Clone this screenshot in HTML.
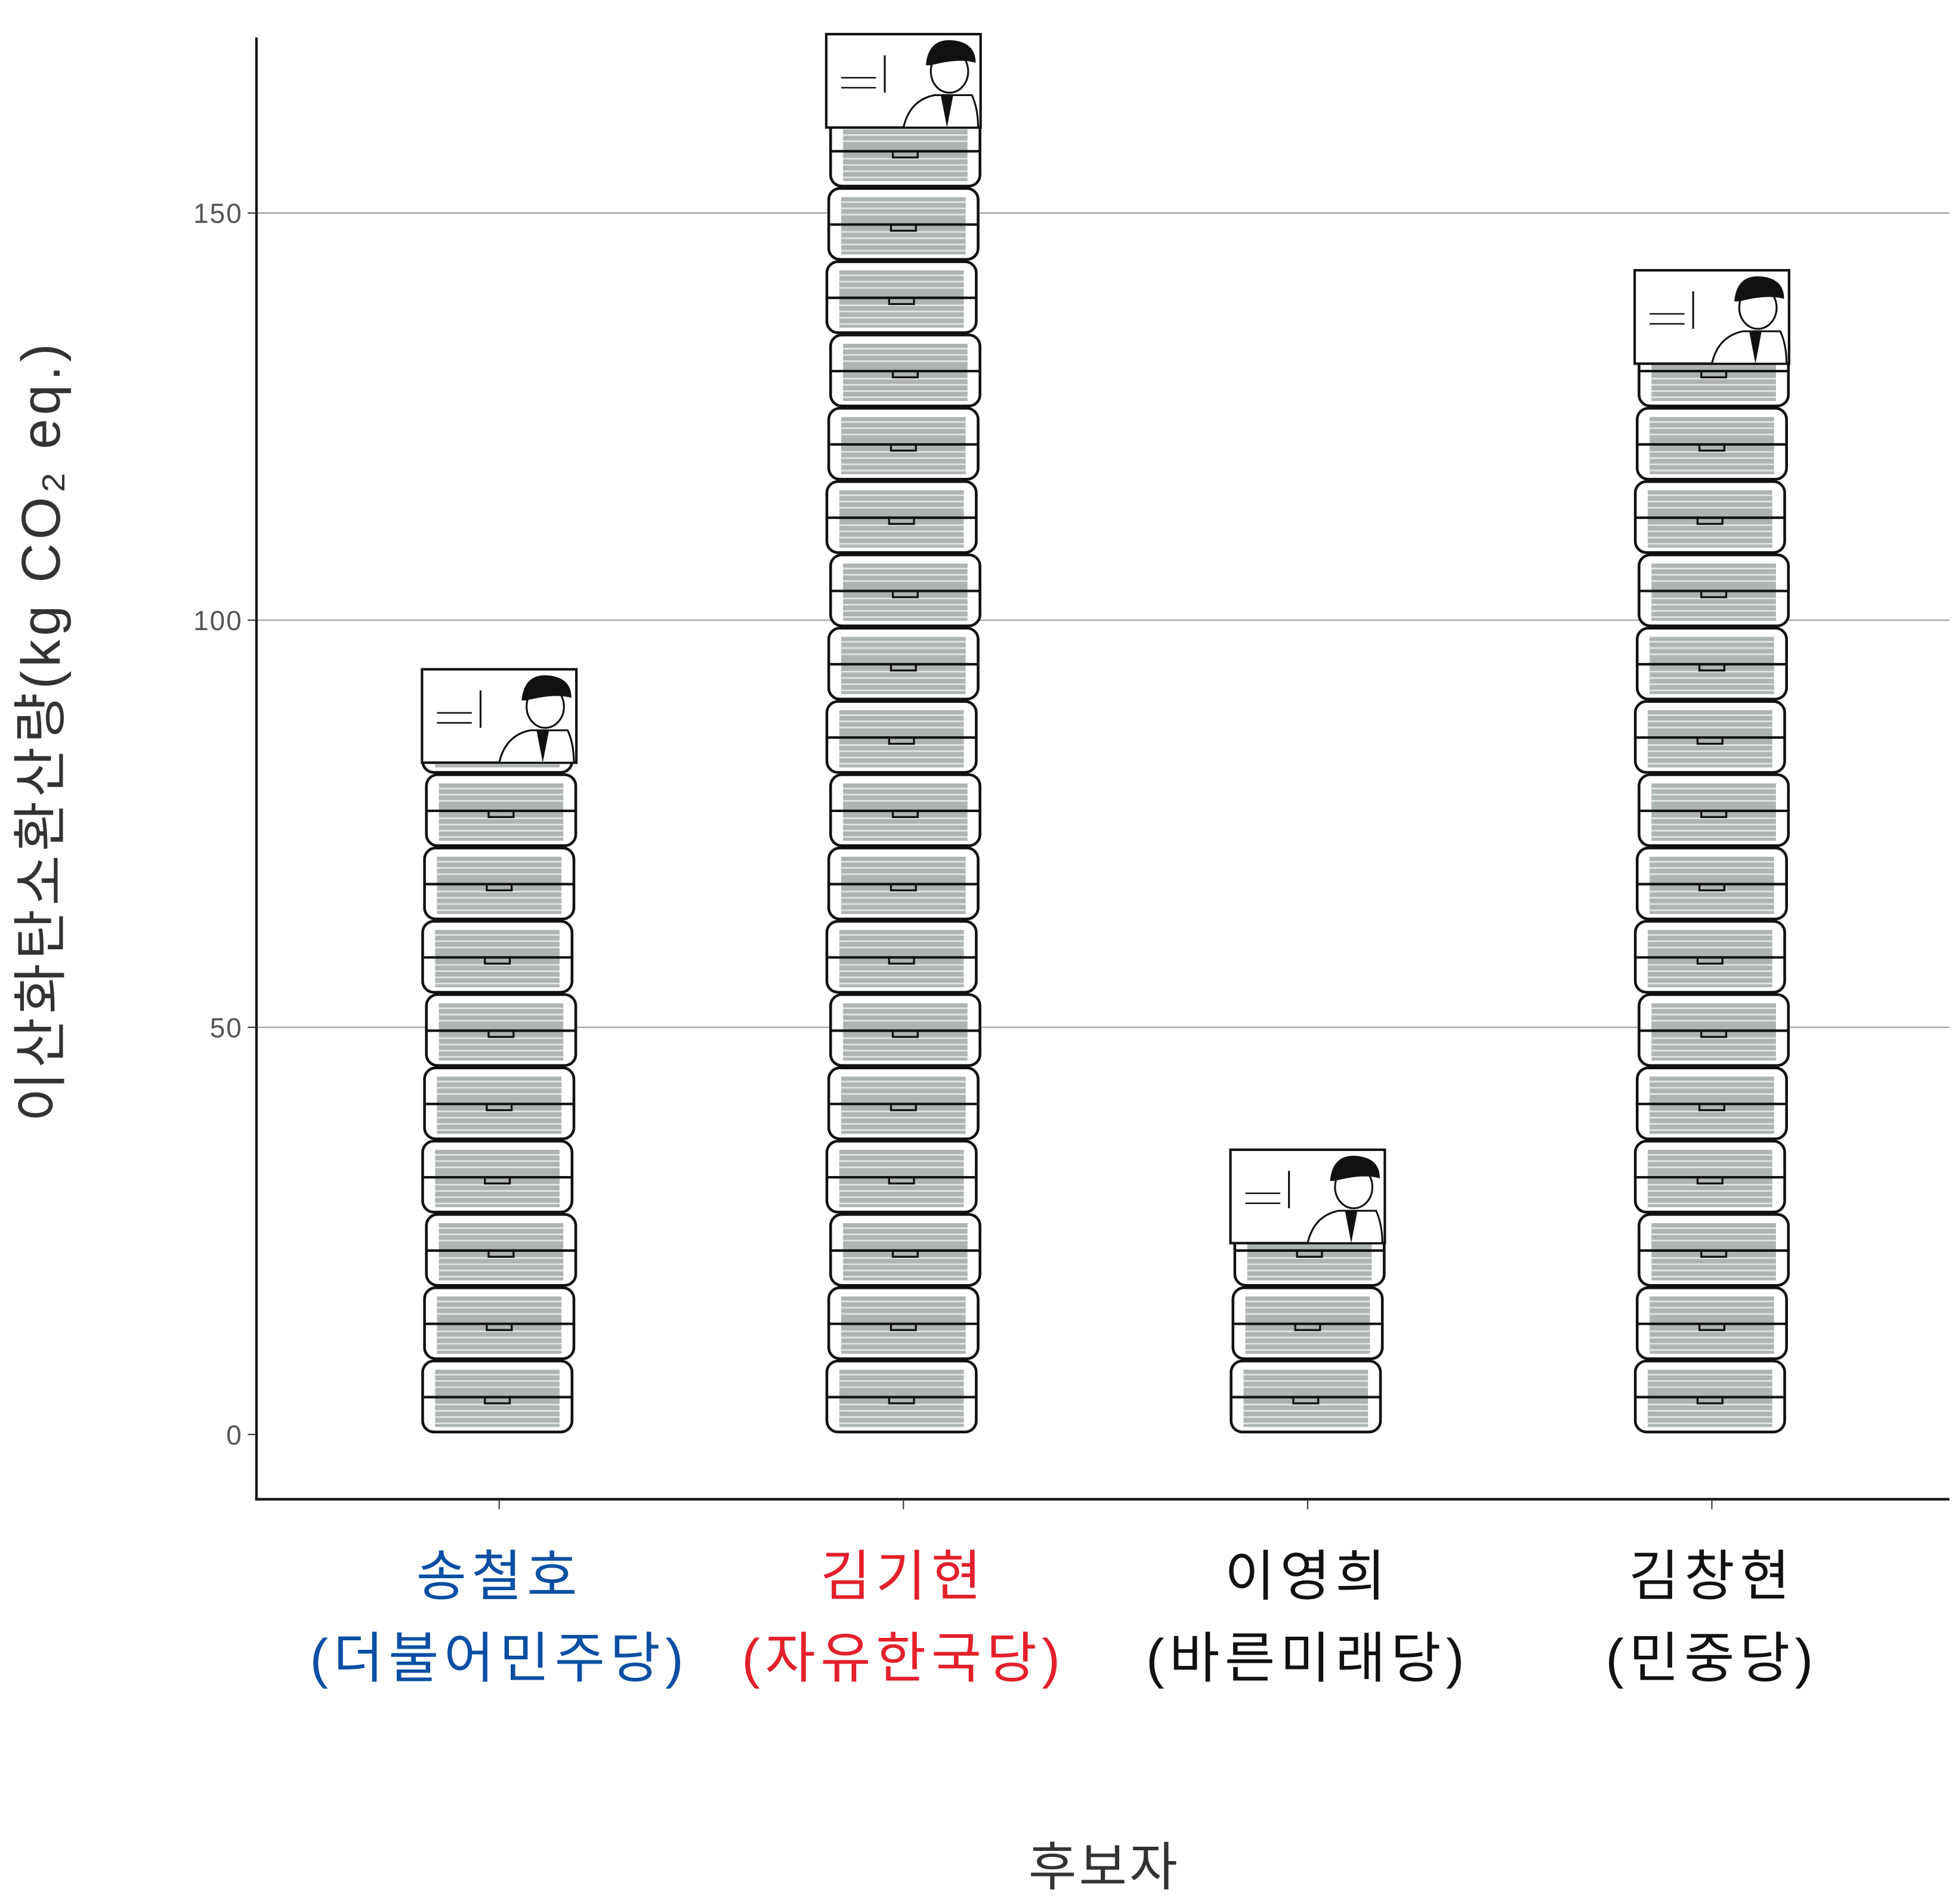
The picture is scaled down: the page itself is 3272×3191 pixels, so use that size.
<!DOCTYPE html>
<html><head><meta charset="utf-8"><style>
html,body{margin:0;padding:0;background:#fff}
svg{display:block}
text{font-family:"Liberation Sans","Noto Sans CJK KR",sans-serif}
</style></head><body>
<svg id="chart" width="3272" height="3191" viewBox="0 0 1568 1529" xmlns="http://www.w3.org/2000/svg">
<defs>
<g id="box">
<rect x="-60" y="-59" width="120" height="57" rx="9" fill="#fff" stroke="#111" stroke-width="2.2"/>
<rect x="-50" y="-52" width="100" height="46" fill="#aeb3b3"/>
<g stroke="#e4e6e6" stroke-width="1.3">
<line x1="-50" y1="-48" x2="50" y2="-48"/><line x1="-50" y1="-43" x2="50" y2="-43"/><line x1="-50" y1="-38" x2="50" y2="-38"/><line x1="-50" y1="-24" x2="50" y2="-24"/><line x1="-50" y1="-19" x2="50" y2="-19"/><line x1="-50" y1="-14" x2="50" y2="-14"/><line x1="-50" y1="-9" x2="50" y2="-9"/>
</g>
<line x1="-60" y1="-30" x2="60" y2="-30" stroke="#111" stroke-width="2"/>
<rect x="-10" y="-30" width="20" height="5" fill="none" stroke="#111" stroke-width="1.6"/>
</g>
<g id="photo">
<rect x="-62" y="-75" width="124" height="75" fill="#fff" stroke="#111" stroke-width="2"/>
<line x1="-50" y1="-40" x2="-22" y2="-40" stroke="#111" stroke-width="1.2"/>
<line x1="-50" y1="-32" x2="-22" y2="-32" stroke="#111" stroke-width="1.2"/>
<line x1="-15" y1="-58" x2="-15" y2="-28" stroke="#111" stroke-width="1.5"/>
<path d="M 0 0 Q 5 -22 25 -26 L 55 -26 Q 60 -15 60 0 Z" fill="#fff" stroke="#111" stroke-width="1.5"/>
<path d="M 30 -26 L 35 0 L 40 -26 Z" fill="#111"/>
<ellipse cx="37" cy="-45" rx="15" ry="17" fill="#fff" stroke="#111" stroke-width="1.5"/>
<path d="M 18 -50 Q 20 -72 40 -70 Q 58 -68 58 -52 Q 45 -56 22 -50 Z" fill="#111"/>
</g>
</defs>
<g id="grid"></g>
<g id="bars"></g>
<g id="axes">
<line x1="206" y1="30" x2="206" y2="1205" stroke="#111" stroke-width="2"/>
<line x1="205" y1="1204" x2="1566" y2="1204" stroke="#111" stroke-width="2"/>
</g>
<text transform="translate(48,587) rotate(-90)" text-anchor="middle" font-size="44" letter-spacing="3" fill="#333">이산화탄소환산량(kg CO₂ eq.)</text>
<text x="887" y="1514" text-anchor="middle" font-size="42" letter-spacing="2" fill="#333">후보자</text>
</svg>
<script>
const categories=["송철호","김기현","이영희","김창현"];
const parties=["(더불어민주당)","(자유한국당)","(바른미래당)","(민중당)"];
const values=[94,172,35,143];
const colors=["#0a4fa3","#e3202b","#111","#111"];
const yTicks=[0,50,100,150];
const NS="http://www.w3.org/2000/svg";
const y=v=>1152-v*6.54;
const x=i=>401+i*324.7;
const grid=document.getElementById('grid'),bars=document.getElementById('bars'),axes=document.getElementById('axes');
yTicks.forEach(t=>{
 const l=document.createElementNS(NS,'line');
 
 
 l.setAttribute('x1',206);l.setAttribute('x2',1566);l.setAttribute('y1',y(t));l.setAttribute('y2',y(t));
 l.setAttribute('stroke',t===0?'none':'#999');l.setAttribute('stroke-width','1');grid.appendChild(l);
 const tk=document.createElementNS(NS,'line');
 
 
 tk.setAttribute('x1',199);tk.setAttribute('x2',206);tk.setAttribute('y1',y(t));tk.setAttribute('y2',y(t));tk.setAttribute('stroke','#333');axes.appendChild(tk);
 const tx=document.createElementNS(NS,'text');
 
 
 tx.setAttribute('x',195);tx.setAttribute('y',y(t)+8);tx.setAttribute('text-anchor','end');tx.setAttribute('font-size','22');tx.setAttribute('letter-spacing','1');tx.setAttribute('fill','#555');tx.textContent=t;axes.appendChild(tx);
});
const boxU=9,photoU=11.5;
values.forEach((v,i)=>{
 const g=document.createElementNS(NS,'g');
 
 
 const n=Math.max(0,Math.ceil((v-photoU)/boxU));
 for(let k=0;k<n;k++){
  const u=document.createElementNS(NS,'use');
  
  
  u.setAttribute('href','#box');u.setAttribute('x',x(i)+(k%3-1)*1.5);u.setAttribute('y',y(k*boxU));g.appendChild(u);
 }
 const p=document.createElementNS(NS,'use');
 
 
 p.setAttribute('href','#photo');p.setAttribute('x',x(i));p.setAttribute('y',y(v-photoU));g.appendChild(p);
 bars.appendChild(g);
 const tk=document.createElementNS(NS,'line');
 
 
 tk.setAttribute('x1',x(i));tk.setAttribute('x2',x(i));tk.setAttribute('y1',1204);tk.setAttribute('y2',1212);tk.setAttribute('stroke','#333');axes.appendChild(tk);
 [[categories[i],1281],[parties[i],1347]].forEach(([s,yy])=>{
  const t=document.createElementNS(NS,'text');
  
  
  t.setAttribute('x',x(i));t.setAttribute('y',yy);t.setAttribute('text-anchor','middle');t.setAttribute('font-size','44');t.setAttribute('letter-spacing','4');t.setAttribute('fill',colors[i]);t.textContent=s;axes.appendChild(t);
 });
});
</script>
</body></html>
